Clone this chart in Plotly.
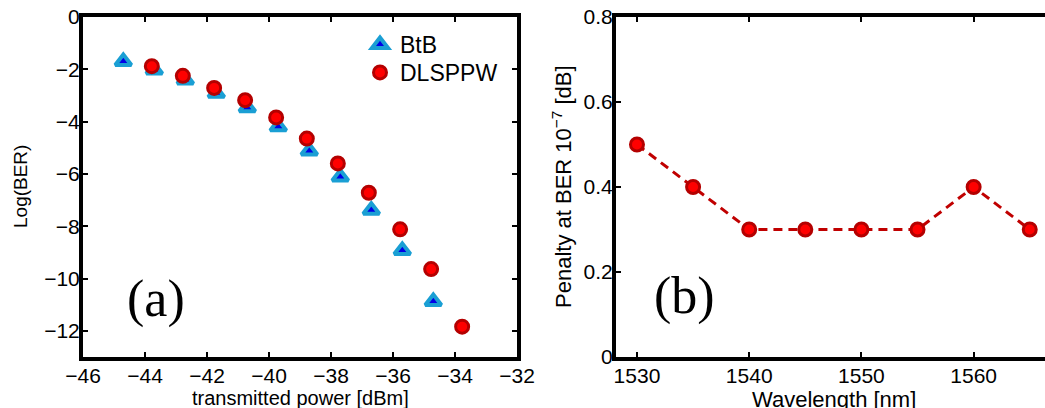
import plotly.graph_objects as go

W, H = 1045, 408

# ---- data: panel (a)
btb_power = [-44.7, -43.7, -42.7, -41.7, -40.7, -39.7, -38.7, -37.7, -36.7, -35.7, -34.7]
btb_logber = [-1.7, -2.03, -2.41, -2.92, -3.47, -4.2, -5.12, -6.12, -7.39, -8.93, -10.88]
dl_power = [-43.78, -42.78, -41.77, -40.77, -39.77, -38.78, -37.78, -36.78, -35.77, -34.77, -33.77]
dl_logber = [-1.88, -2.25, -2.71, -3.18, -3.84, -4.65, -5.6, -6.72, -8.12, -9.64, -11.84]

# ---- data: panel (b)
wavelength = [1530, 1535, 1540, 1545, 1550, 1555, 1560, 1565]
penalty = [0.5, 0.4, 0.3, 0.3, 0.3, 0.3, 0.4, 0.3]

x_ticks_a = [-46, -44, -42, -40, -38, -36, -34, -32]
y_ticks_a = [0, -2, -4, -6, -8, -10, -12]
x_ticks_b = [1530, 1540, 1550, 1560]
y_ticks_b = [0, 0.2, 0.4, 0.6, 0.8]
y_ticktext_b = ["0", "0.2", "0.4", "0.6", "0.8"]


def px(x):
    return x / W


def py(y):
    return 1 - y / H


FONT = "Liberation Sans, Arial, Helvetica, sans-serif"

fig = go.Figure()

fig.add_trace(go.Scatter(
    x=btb_power, y=btb_logber, mode="markers", name="BtB", legend="legend",
    marker=dict(symbol="triangle-up", size=14, color="#0000e6",
                line=dict(color="#1a9fd4", width=4)),
    xaxis="x", yaxis="y"))
fig.add_trace(go.Scatter(
    x=dl_power, y=dl_logber, mode="markers", name="DLSPPW", legend="legend2",
    marker=dict(symbol="circle", size=13, color="#ff0000",
                line=dict(color="#b40000", width=3)),
    xaxis="x", yaxis="y"))

fig.add_trace(go.Scatter(
    x=wavelength, y=penalty, mode="lines+markers", showlegend=False,
    line=dict(color="#c00000", width=3, dash="9px,6px"),
    marker=dict(symbol="circle", size=13, color="#ff0000",
                line=dict(color="#b40000", width=3)),
    xaxis="x2", yaxis="y2", cliponaxis=False))


def axis(**kw):
    d = dict(
        showgrid=False, zeroline=False, showline=True, linecolor="black", linewidth=4,
        ticks="inside", ticklen=5, tickwidth=2, tickcolor="black", automargin=False,
        ticklabeloverflow="allow",
        tickfont=dict(family=FONT, size=21, color="black"),
    )
    d.update(kw)
    return d


leg_common = dict(xanchor="left", yanchor="top", bgcolor="rgba(0,0,0,0)", borderwidth=0,
                  font=dict(family=FONT, size=23, color="black"))

fig.update_layout(
    template="none",
    width=W, height=H,
    margin=dict(l=0, r=0, t=0, b=0, pad=0),
    paper_bgcolor="white", plot_bgcolor="white",
    xaxis=axis(domain=[px(83), px(517)], range=[-46, -32], tickvals=x_ticks_a,
               mirror="allticks", anchor="y", ticklabelstandoff=-3),
    yaxis=axis(domain=[py(357), py(17)], range=[-13, 0], tickvals=y_ticks_a,
               mirror="allticks", anchor="x", ticklabelstandoff=-5),
    xaxis2=axis(domain=[px(616), 1.0], range=[1528.13, 1566.36], tickvals=x_ticks_b,
                mirror="allticks", anchor="y2", ticklabelstandoff=-3),
    yaxis2=axis(domain=[py(357), py(17)], range=[0, 0.8], tickvals=y_ticks_b,
                ticktext=y_ticktext_b, anchor="x2", mirror=False, ticklabelstandoff=-5),
    showlegend=True,
    legend=dict(x=px(360), y=py(23), **leg_common),
    legend2=dict(x=px(360), y=py(51), **leg_common),
)

annotations = [
    dict(text="transmitted power [dBm]", x=px(300), y=py(398), font=dict(size=20)),
    dict(text="Log(BER)", x=px(21), y=py(187), font=dict(size=19), textangle=-90),
    dict(text="Wavelength [nm]", x=px(834), y=py(399), font=dict(size=22)),
    dict(text="Penalty at BER 10<sup>\u22127</sup> [dB]", x=px(562), y=py(187),
         font=dict(size=22), textangle=-90),
    dict(text="(a)", x=px(156), y=py(299),
         font=dict(size=52, family="Liberation Serif, Times New Roman, serif")),
    dict(text="(b)", x=px(684), y=py(296),
         font=dict(size=52, family="Liberation Serif, Times New Roman, serif")),
]
for a in annotations:
    f = dict(family=FONT, color="black")
    f.update(a.pop("font"))
    fig.add_annotation(xref="paper", yref="paper", xanchor="center", yanchor="middle",
                       showarrow=False, font=f, **a)

# remove the page's default body margin so the figure sits at the window origin
fig.write_html(
    "out.html",
    config={"displayModeBar": False},
    post_script="document.body.style.margin='0';document.body.style.overflow='hidden';",
)
